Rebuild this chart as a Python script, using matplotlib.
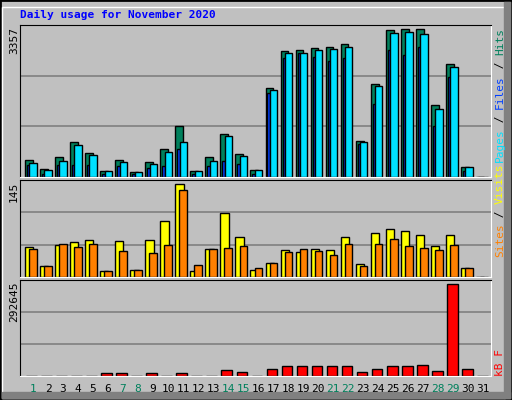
import matplotlib
matplotlib.use("Agg")
import matplotlib.pyplot as plt
from matplotlib.patches import Rectangle
import numpy as np

# ------------------------------------------------------------
# DATA
# ------------------------------------------------------------
days = list(range(1, 32))
weekend = [1, 7, 8, 14, 15, 21, 22, 28, 29]

hits = [384, 184, 435, 782, 539, 140, 384, 118, 339, 627, 1136, 140, 435, 959, 516, 162,
        1955, 2774, 2796, 2840, 2863, 2929, 804, 2044, 3239, 3261, 3261, 1601, 2486, 229, 0]
pages = [317, 162, 361, 716, 494, 140, 339, 118, 295, 561, 782, 140, 361, 915, 472, 162,
         1911, 2730, 2730, 2796, 2818, 2863, 782, 1999, 3172, 3195, 3150, 1512, 2420, 229, 0]
files = [258, 74, 258, 258, 258, 74, 236, 74, 192, 236, 627, 74, 236, 347, 295, 74,
         1859, 2619, 2730, 2649, 2553, 2619, 738, 1623, 2796, 2686, 2863, 1136, 2199, 140, 0]

visits = [44.5, 17, 48.5, 53, 56, 9.5, 54.5, 11, 56, 83, 138.5, 9.5, 42.5, 95, 60.5, 11,
          21.5, 41, 38, 42.5, 41, 60.5, 20, 66.5, 72.5, 69.5, 63.5, 47, 63.5, 14, 0]
sites = [42.5, 17, 50, 45.5, 50, 9.5, 39.5, 11, 36.5, 48.5, 130, 18.5, 42.5, 44, 47, 14,
         21.5, 38, 42.5, 39.5, 33.5, 50, 17, 50, 57.5, 47, 44, 41, 48.5, 14, 0]

kbytes = [1500, 1500, 1500, 1500, 1500, 8000, 8000, 1500, 8000, 1500, 8000, 1500, 1500,
          17300, 11200, 1500, 20400, 29600, 29600, 29600, 29600, 29600, 11200, 20400,
          29600, 29600, 32600, 14300, 280500, 20400, 0]

max_hits = 3357
max_visits = 145
max_kb = 292645

W, H = 512, 400
BG = "#C0C0C0"
MONO = "DejaVu Sans Mono"

fig = plt.figure(figsize=(W / 100, H / 100), dpi=100, facecolor=BG)


def px_axes(x0, y0, x1, y1):
    # pixel coords measured from top-left
    return fig.add_axes([x0 / W, 1 - y1 / H, (x1 - x0) / W, (y1 - y0) / H])


def style(ax, ymax):
    ax.set_facecolor(BG)
    ax.set_xlim(-1 / 3, 31)
    ax.set_ylim(0, ymax)
    ax.set_xticks([])
    ax.set_yticks([])
    for s in ["left", "top"]:
        ax.spines[s].set_color("black")
    for s in ["right", "bottom"]:
        ax.spines[s].set_color("white")
    for f in (1 / 3, 2 / 3):
        ax.axhline(ymax * f, color="#808080", lw=1.2, zorder=0)


def bars(ax, vals, lo, hi, color):
    x = np.arange(31)
    ax.bar(x + lo, vals, width=hi - lo, align="edge", color=color,
           edgecolor="black", linewidth=1, zorder=2)


ax1 = px_axes(20, 25, 491, 177)
style(ax1, max_hits)
bars(ax1, hits, 0.0, 0.52, "#00805C")
bars(ax1, files, 0.13, 0.29, "#0040FF")
bars(ax1, pages, 0.29, 0.78, "#00E0FF")

ax2 = px_axes(20, 180, 491, 277)
style(ax2, max_visits)
bars(ax2, visits, 0.0, 0.55, "#FFFF00")
bars(ax2, sites, 0.27, 0.78, "#FF8000")

ax3 = px_axes(20, 280, 491, 376)
style(ax3, max_kb)
bars(ax3, kbytes, 0.07, 0.78, "#FF0000")

# outer 3D frame
fig.add_artist(Rectangle((0, 0), 1, 1, transform=fig.transFigure, fill=False,
                         edgecolor="black", lw=2))
fig.add_artist(Rectangle((2 / W, 2 / H), 1 - 9 / W, 1 - 9 / H, transform=fig.transFigure,
                         fill=False, edgecolor="white", lw=1))
fig.add_artist(Rectangle((W - 8) / W, 0, transform=fig.transFigure, width=6 / W, height=1,
                         color="#808080") if False else
               Rectangle(((W - 8) / W, 2 / H), 6 / W, 1 - 4 / H, transform=fig.transFigure,
                         color="#808080"))
fig.add_artist(Rectangle((2 / W, 2 / H), 1 - 4 / W, 6 / H, transform=fig.transFigure,
                         color="#808080"))

fig.text(20 / W, 1 - 15 / H, "Daily usage for November 2020", color="#0000FF",
         family=MONO, fontsize=8, fontweight="bold", va="center", ha="left")

# left max labels
for label, ytop in [(str(max_hits), 27), (str(max_visits), 182), (str(max_kb), 282)]:
    fig.text(14 / W, 1 - ytop / H, label, rotation=90, family=MONO, fontsize=8,
             va="top", ha="center")

# right legends, stacked bottom to top
FS = 8
CH = 0.6 * FS * 100 / 72


def right_label(pieces, ybottom):
    y = ybottom
    for txt, col in pieces:
        fig.text(500 / W, 1 - y / H, txt, rotation=90, family=MONO, fontsize=FS,
                 color=col, va="bottom", ha="center")
        y -= len(txt) * CH


right_label([("Pages", "#00E0FF"), (" / ", "black"), ("Files", "#0040FF"),
             (" / ", "black"), ("Hits", "#00805C")], 162)
right_label([("Sites", "#FF8000"), (" / ", "black"), ("Visits", "#FFFF00")], 257)
right_label([("kB F", "#FF0000")], 376)

# day labels
for d in days:
    x = 20 + 5 + 15 * (d - 1) + 8
    col = "#00805C" if d in weekend else "black"
    fig.text(x / W, 1 - 389 / H, str(d), family=MONO, fontsize=8, color=col,
             ha="center", va="center")

fig.savefig("out.png", dpi=100, facecolor=BG)
